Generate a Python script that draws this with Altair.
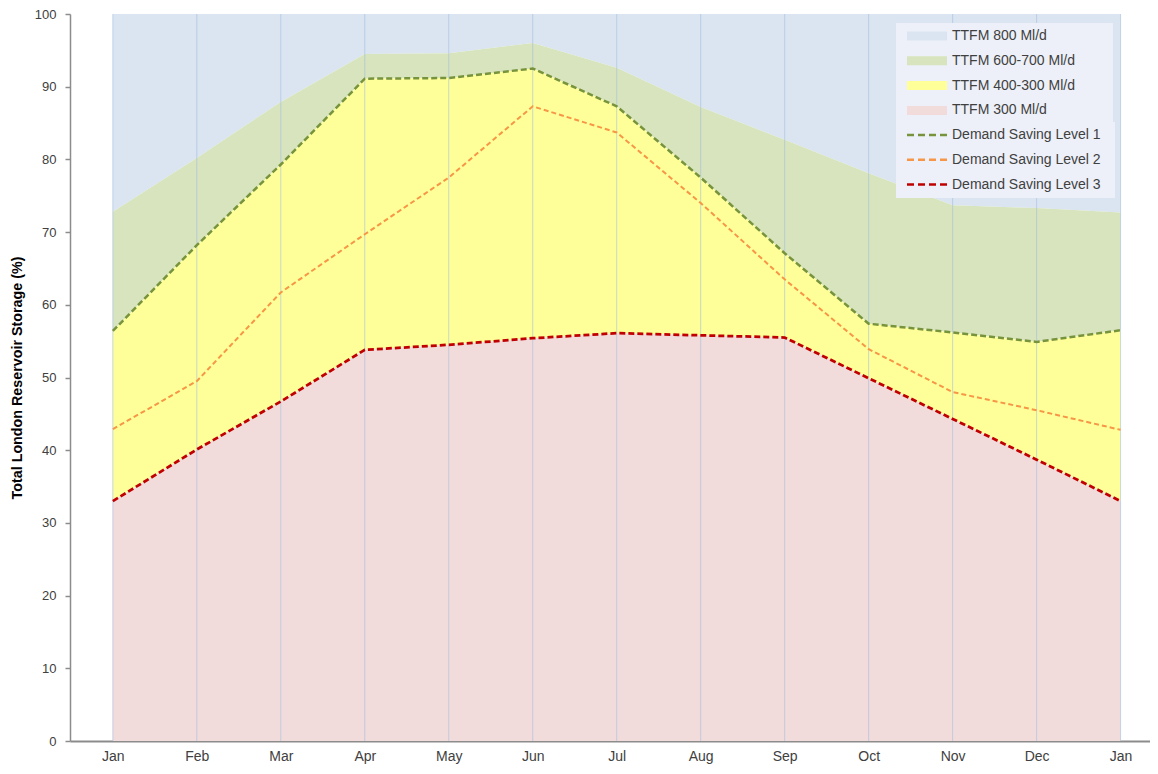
import altair as alt
import pandas as pd

# ---------------- data ----------------
months = ["Jan", "Feb", "Mar", "Apr", "May", "Jun", "Jul", "Aug", "Sep", "Oct", "Nov", "Dec", "Jan"]
y_max = 100

ttfm_600_700_top = [72.8, 80.2, 87.9, 94.5, 94.6, 96.0, 92.6, 87.2, 82.7, 78.1, 73.7, 73.3, 72.7]
dsl1 = [56.4, 68.2, 79.3, 91.1, 91.2, 92.5, 87.3, 77.5, 67.1, 57.4, 56.2, 54.9, 56.5]
dsl2 = [42.9, 49.5, 61.7, 69.7, 77.5, 87.3, 83.7, 74.0, 63.5, 53.9, 48.0, 45.5, 42.8]
dsl3 = [33.0, 40.1, 46.7, 53.8, 54.5, 55.4, 56.1, 55.8, 55.5, 49.9, 44.3, 38.7, 33.0]

band_names = ["TTFM 800 Ml/d", "TTFM 600-700 Ml/d", "TTFM 400-300 Ml/d", "TTFM 300 Ml/d"]
band_colors = ["#dbe5f1", "#d7e4bd", "#ffff99", "#f2dcdb"]
line_names = ["Demand Saving Level 1", "Demand Saving Level 2", "Demand Saving Level 3"]
line_colors = ["#77933c", "#f79646", "#c00000"]

# ---------------- tables ----------------
idx = list(range(len(months)))
n = len(months)
band_bounds = [
    (band_names[0], ttfm_600_700_top, [y_max] * n),
    (band_names[1], dsl1, ttfm_600_700_top),
    (band_names[2], dsl3, dsl1),
    (band_names[3], [0] * n, dsl3),
]
area_rows = []
for name, lo, hi in band_bounds:
    for i in idx:
        area_rows.append({"band": name, "idx": i, "lower": lo[i], "upper": hi[i]})
df_area = pd.DataFrame(area_rows)

line_rows = []
for name, vals in zip(line_names, [dsl1, dsl2, dsl3]):
    for i in idx:
        line_rows.append({"series": name, "idx": i, "value": vals[i]})
df_line = pd.DataFrame(line_rows)

df_grid = pd.DataFrame({"idx": idx})

# ---------------- scales / axes ----------------
FONT = "Liberation Sans"
NBSP = "\u00a0"
ZWSP = "\u200b"
label_array = "[" + ",".join("'%s'" % m for m in months) + "]"

xscale = alt.Scale(domain=[-0.51, 12.35], nice=False, zero=False)
xaxis = alt.Axis(values=idx, labelExpr=label_array + "[datum.value]", grid=False, ticks=False,
                 domainColor="#8c8c8c", domainWidth=2, labelColor="#404040", labelFont=FONT,
                 labelFontSize=14, labelPadding=8, title=None)
yscale = alt.Scale(domain=[0, y_max], nice=False)
yaxis = alt.Axis(values=list(range(0, 101, 10)), grid=False, ticks=True, tickSize=5,
                 tickColor="#8c8c8c", tickWidth=1.5, domainColor="#8c8c8c", domainWidth=1.5,
                 labelColor="#404040", labelFont=FONT, labelFontSize=13, labelPadding=9,
                 title="Total London Reservoir Storage (%)", titleFont=FONT, titleFontSize=14.3,
                 titleFontWeight="bold", titleColor="#000000", titlePadding=10)

X = alt.X("idx:Q", scale=xscale, axis=xaxis)

leg_fill = alt.Legend(title=None, orient="none", legendX=826, legendY=9, fillColor="#edf0f8",
                      padding=6, symbolType="M-4,-0.9H4V0.9H-4Z", symbolSize=100,
                      symbolStrokeWidth=0, symbolOffset=18, labelOffset=18, rowPadding=10.8,
                      labelFont=FONT, labelFontSize=14, labelColor="#404040", labelLimit=400,
                      labelExpr="datum.label + '" + NBSP * 8 + ZWSP + "'")
leg_line = alt.Legend(title=None, orient="none", legendX=826, legendY=108, fillColor="#edf0f8",
                      padding=6, symbolType="M-4,0H4", symbolSize=100, symbolStrokeWidth=2.5,
                      symbolDash=[7, 4], symbolFillColor="transparent", symbolOffset=18,
                      labelOffset=18, rowPadding=10.8, labelFont=FONT, labelFontSize=14,
                      labelColor="#404040", labelLimit=400,
                      labelExpr="datum.label + '" + NBSP * 2 + ZWSP + "'")

areas = alt.Chart(df_area).mark_area(strokeWidth=0).encode(
    x=X,
    y=alt.Y("lower:Q", scale=yscale, axis=yaxis),
    y2="upper:Q",
    color=alt.Color("band:N", scale=alt.Scale(domain=band_names, range=band_colors), legend=leg_fill),
)

grid = alt.Chart(df_grid).mark_rule(color="#a3bce0", strokeWidth=1, opacity=0.6).encode(x=X)

stroke_scale = alt.Scale(domain=line_names, range=line_colors)
line_widths = [2.5, 2.0, 2.75]
line_dashes = [[6, 3], [5, 3], [6, 3]]
line_layers = []
for name, w, d in zip(line_names, line_widths, line_dashes):
    line_layers.append(
        alt.Chart(df_line[df_line["series"] == name]).mark_line(strokeWidth=w, strokeDash=d).encode(
            x=X,
            y=alt.Y("value:Q", scale=yscale, axis=yaxis),
            stroke=alt.Stroke("series:N", scale=stroke_scale, legend=leg_line),
        )
    )

chart = alt.layer(areas, grid, *line_layers).properties(
    width=1080, height=727,
    autosize=alt.AutoSizeParams(type="none"),
    padding={"left": 62, "top": 6, "right": 0, "bottom": 24},
    background="#ffffff",
).configure_view(stroke=None)

chart.save("out.html", embed_options={"renderer": "svg", "actions": False})
